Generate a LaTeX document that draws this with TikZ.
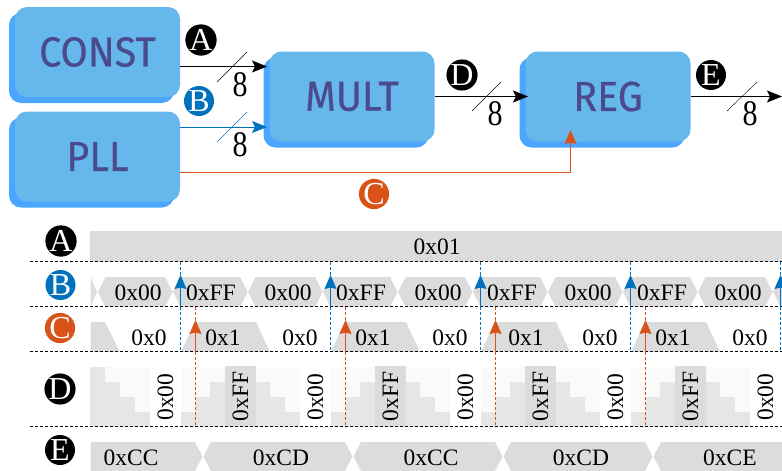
\documentclass[tikz,border=0pt]{standalone}
\usepackage{fontspec}
\setmainfont{Liberation Serif}
\newfontfamily\blockfont[FakeStretch=0.94,FakeBold=0.4]{Fira Sans}
\usetikzlibrary{arrows.meta,shadows}

\definecolor{blocklight}{HTML}{66B7EC}
\definecolor{blockdark}{HTML}{4AA6FF}
\definecolor{blocktext}{HTML}{4A4A8C}
\definecolor{clockblue}{HTML}{0072BD}
\definecolor{enableorange}{HTML}{D95319}
\definecolor{busgrey}{HTML}{DCDCDC}
\definecolor{stairdark}{HTML}{E6E6E6}
\definecolor{stairlight}{HTML}{FAFAFA}

\newcommand{\buswidth}{\scalebox{1}[1.2]{8}}

\tikzset{
  block/.style={fill=blocklight, rounded corners=12pt, minimum width=165pt, minimum height=90pt,
    inner sep=0pt, text=blocktext, font=\blockfont\fontsize{42}{42}\selectfont,
    general shadow={fill=blockdark, shadow xshift=-6pt, shadow yshift=-6pt}},
  tag/.style={circle, fill=#1, text=white, minimum size=30pt, inner sep=0pt,
    font=\fontsize{32}{32}\selectfont},
  val/.style={inner sep=0pt, font=\fontsize{23.5}{23.5}\selectfont},
  width8/.style={inner sep=0pt, font=\fontsize{30}{30}\selectfont},
  wire/.style={line width=1pt, -{Stealth[length=15pt,width=12pt,inset=3pt]}},
  edge/.style={line width=1pt, -{Stealth[length=14pt,width=12pt,inset=1.5pt]}},
  grid/.style={line width=1pt, dash pattern=on 3pt off 2pt},
  zerocell/.style={val, fill=white, rotate=90, minimum width=60pt, minimum height=31pt},
  ffcell/.style={val, fill=busgrey, rotate=90, minimum width=61pt, minimum height=31pt}
}

\begin{document}
\begin{tikzpicture}[x=1pt,y=-1pt]
    \useasboundingbox (0,0) rectangle (782,471);

    % Draw the blocks
    \node[block] (CONST) at (97.5,52) {CONST};
    \node[block] (PLL) at (97.5,156.5) {PLL};
    \node[block] (MULT) at (352,96.5) {MULT};
    \node[block] (REG) at (608,96.5) {REG};

    % Define coordinates for the wire ends
    \coordinate (A1) at (CONST.east |- 0,66.5);
    \coordinate (A2) at (267,66.5);
    \coordinate (B1) at (PLL.east |- 0,127);
    \coordinate (B2) at (267,127);
    \coordinate (C1) at (PLL.east |- 0,172);
    \coordinate (C2) at (570.5,172);
    \coordinate (C3) at (570.5,130);
    \coordinate (E2) at (782,96.5);

    % Draw the wires
    \draw[wire] (A1) -- (A2);
    \draw[wire, clockblue] (B1) -- (B2);
    \draw[edge, enableorange] (C1) -- (C2) -- (C3);
    \draw[wire] (MULT.east) -- (528,96.5);
    \draw[wire] (REG.east) -- (E2);

    % Draw the bus slashes
    \draw (217,82) -- (247,52);
    \draw[clockblue] (217,142) -- (247,112);
    \draw (472,111) -- (501,82);
    \draw (727,111) -- (757,82);

    % Add width labels
    \node[width8] (w1) at (240,85) {\buswidth};
    \node[width8] (w2) at (240,145) {\buswidth};
    \node[width8] (w3) at (495,114) {\buswidth};
    \node[width8] (w4) at (750,114) {\buswidth};

    % Add wire tags
    \node[tag=black] (tagA) at (201,40) {A};
    \node[tag=clockblue] (tagB) at (199,101) {B};
    \node[tag=enableorange] (tagC) at (374,194) {C};
    \node[tag=black] (tagD) at (462,75) {D};
    \node[tag=black] (tagE) at (711,75) {E};

    % Add row tags
    \node[tag=black] (rowA) at (61,241) {A};
    \node[tag=clockblue] (rowB) at (60.5,285) {B};
    \node[tag=enableorange] (rowC) at (60,328) {C};
    \node[tag=black] (rowD) at (60,389) {D};
    \node[tag=black] (rowE) at (60,450) {E};

    % Row A
    \fill[busgrey] (90,231) rectangle (782,262);
    \node[val] at (437,247) {0x01};

    % Row B
    \fill[busgrey] (90.5,277) -- (97,292) -- (90.5,307) -- cycle;
    \fill[busgrey] (98,292) -- ++(7.5,-15) -- ++(59.5,0) -- ++(7.5,15) -- ++(-7.5,15) -- ++(-59.5,0) -- cycle;
    \fill[busgrey] (173,292) -- ++(7.5,-15) -- ++(59.5,0) -- ++(7.5,15) -- ++(-7.5,15) -- ++(-59.5,0) -- cycle;
    \fill[busgrey] (248,292) -- ++(7.5,-15) -- ++(59.5,0) -- ++(7.5,15) -- ++(-7.5,15) -- ++(-59.5,0) -- cycle;
    \fill[busgrey] (323,292) -- ++(7.5,-15) -- ++(59.5,0) -- ++(7.5,15) -- ++(-7.5,15) -- ++(-59.5,0) -- cycle;
    \fill[busgrey] (398,292) -- ++(7.5,-15) -- ++(59.5,0) -- ++(7.5,15) -- ++(-7.5,15) -- ++(-59.5,0) -- cycle;
    \fill[busgrey] (473,292) -- ++(7.5,-15) -- ++(59.5,0) -- ++(7.5,15) -- ++(-7.5,15) -- ++(-59.5,0) -- cycle;
    \fill[busgrey] (548,292) -- ++(7.5,-15) -- ++(59.5,0) -- ++(7.5,15) -- ++(-7.5,15) -- ++(-59.5,0) -- cycle;
    \fill[busgrey] (623,292) -- ++(7.5,-15) -- ++(59.5,0) -- ++(7.5,15) -- ++(-7.5,15) -- ++(-59.5,0) -- cycle;
    \fill[busgrey] (698,292) -- ++(7.5,-15) -- ++(59.5,0) -- ++(7.5,15) -- ++(-7.5,15) -- ++(-59.5,0) -- cycle;
    \fill[busgrey] (773,292) -- (780.5,277) -- (782,277) -- (782,307) -- (780.5,307) -- cycle;

    % Row C
    \fill[busgrey] (90.5,322) -- (105,322) -- (120,352) -- (90.5,352) -- cycle;
    \fill[busgrey] (181,352) -- (195,322) -- (256,322) -- (270,352) -- cycle;
    \fill[busgrey] (331,352) -- (345,322) -- (406,322) -- (420,352) -- cycle;
    \fill[busgrey] (481,352) -- (495,322) -- (556,322) -- (570,352) -- cycle;
    \fill[busgrey] (631,352) -- (645,322) -- (706,322) -- (720,352) -- cycle;

    % Row D, the light band and the stairs on it
    \fill[stairlight] (90,367) rectangle (750,427);
    \fill[stairdark] (90,427) -- (90,367) -- (105,367) -- (105,382) -- (120,382) -- (120,397) -- (135,397) -- (135,412)
      -- (196,412) -- (196,397) -- (210,397) -- (210,382) -- (256,382) -- (270,382) -- (270,397) -- (285,397) -- (285,412)
      -- (346,412) -- (346,397) -- (360,397) -- (360,382) -- (406,382) -- (420,382) -- (420,397) -- (435,397) -- (435,412)
      -- (496,412) -- (496,397) -- (510,397) -- (510,382) -- (556,382) -- (570,382) -- (570,397) -- (585,397) -- (585,412)
      -- (646,412) -- (646,397) -- (660,397) -- (660,382) -- (706,382) -- (720,382) -- (720,397) -- (735,397) -- (735,412)
      -- (750,412) -- (750,427) -- cycle;

    % Row E
    \fill[busgrey] (90.5,442) -- (195,442) -- (202.5,456.5) -- (195,471) -- (90.5,471) -- cycle;
    \fill[busgrey] (203.5,456.5) -- ++(7.5,-14.5) -- ++(134,0) -- ++(7.5,14.5) -- ++(-7.5,14.5) -- ++(-134,0) -- cycle;
    \fill[busgrey] (353.5,456.5) -- ++(7.5,-14.5) -- ++(134,0) -- ++(7.5,14.5) -- ++(-7.5,14.5) -- ++(-134,0) -- cycle;
    \fill[busgrey] (503.5,456.5) -- ++(7.5,-14.5) -- ++(134,0) -- ++(7.5,14.5) -- ++(-7.5,14.5) -- ++(-134,0) -- cycle;
    \fill[busgrey] (653.5,456.5) -- (661,442) -- (782,442) -- (782,471) -- (661,471) -- cycle;

    % Add row B labels
    \node[val] at (138,292.7) {0x00};
    \node[val] at (211,292.7) {0xFF};
    \node[val] at (288,292.7) {0x00};
    \node[val] at (361,292.7) {0xFF};
    \node[val] at (438,292.7) {0x00};
    \node[val] at (512,292.7) {0xFF};
    \node[val] at (588,292.7) {0x00};
    \node[val] at (662,292.7) {0xFF};
    \node[val] at (738,292.7) {0x00};

    % Add row C labels
    \node[val] at (149,337.7) {0x0};
    \node[val] at (223,337.7) {0x1};
    \node[val] at (300,337.7) {0x0};
    \node[val] at (373,337.7) {0x1};
    \node[val] at (450,337.7) {0x0};
    \node[val] at (526,337.7) {0x1};
    \node[val] at (600,337.7) {0x0};
    \node[val] at (673,337.7) {0x1};
    \node[val] at (750,337.7) {0x0};

    % Add row D labels
    \node[zerocell] at (165.5,397) {0x00};
    \node[ffcell] at (240.5,396.5) {0xFF};
    \node[zerocell] at (315.5,397) {0x00};
    \node[ffcell] at (390.5,396.5) {0xFF};
    \node[zerocell] at (465.5,397) {0x00};
    \node[ffcell] at (540.5,396.5) {0xFF};
    \node[zerocell] at (615.5,397) {0x00};
    \node[ffcell] at (690.5,396.5) {0xFF};
    \node[zerocell] at (765.5,397) {0x00};

    % Add row E labels
    \node[val] at (131,457.5) {0xCC};
    \node[val] at (281,457.5) {0xCD};
    \node[val] at (431,457.5) {0xCC};
    \node[val] at (581,457.5) {0xCD};
    \node[val] at (730,457.5) {0xCE};

    % Draw the row separators
    \draw[grid] (30,261.5) -- (782,261.5);
    \draw[grid] (30,306.5) -- (782,306.5);
    \draw[grid] (30,351.5) -- (782,351.5);
    \draw[grid] (30,426.5) -- (782,426.5);

    % Mark the clock edges
    \draw[grid, clockblue] (180.5,262) -- (180.5,352);
    \draw[grid, clockblue] (330.5,262) -- (330.5,352);
    \draw[grid, clockblue] (480.5,262) -- (480.5,352);
    \draw[grid, clockblue] (630.5,262) -- (630.5,352);
    \draw[grid, clockblue] (780.5,262) -- (780.5,352);
    \draw[edge, clockblue] (180.5,307) -- (180.5,275);
    \draw[edge, clockblue] (330.5,307) -- (330.5,275);
    \draw[edge, clockblue] (480.5,307) -- (480.5,275);
    \draw[edge, clockblue] (630.5,307) -- (630.5,275);
    \draw[edge, clockblue] (780.5,307) -- (780.5,275);

    % Mark the enable edges
    \draw[grid, enableorange] (195.5,307) -- (195.5,427);
    \draw[grid, enableorange] (345.5,307) -- (345.5,427);
    \draw[grid, enableorange] (495.5,307) -- (495.5,427);
    \draw[grid, enableorange] (645.5,307) -- (645.5,427);
    \draw[edge, enableorange] (195.5,352) -- (195.5,320);
    \draw[edge, enableorange] (345.5,352) -- (345.5,320);
    \draw[edge, enableorange] (495.5,352) -- (495.5,320);
    \draw[edge, enableorange] (645.5,352) -- (645.5,320);
\end{tikzpicture}
\end{document}
